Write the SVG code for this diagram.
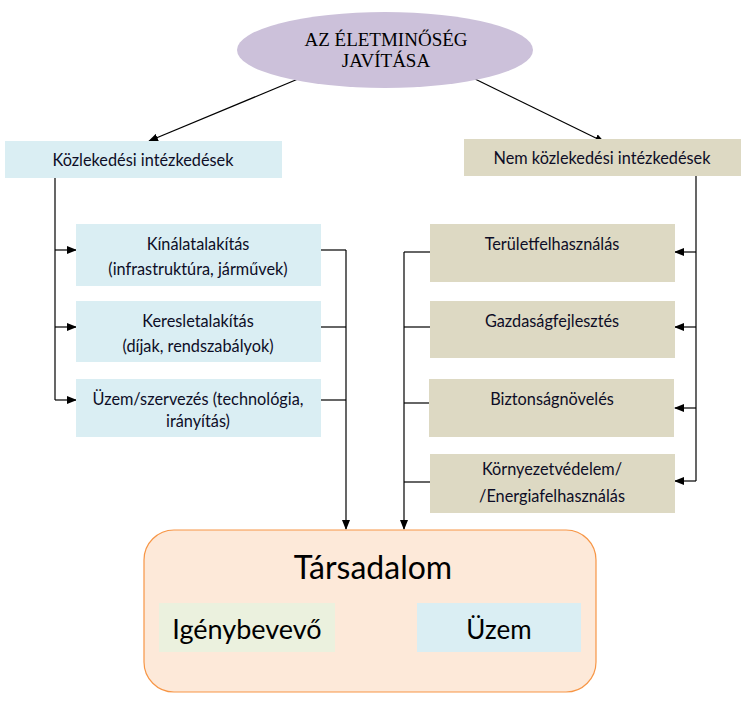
<svg xmlns="http://www.w3.org/2000/svg" width="750" height="701" viewBox="0 0 750 701">
<defs>
<marker id="ah" markerWidth="10" markerHeight="8" refX="9" refY="4" orient="auto" markerUnits="userSpaceOnUse">
<path d="M0,0 L10,4 L0,8 Z" fill="#000"/>
</marker>
<style>
.t{font-family:Lato,"Noto Sans",sans-serif;font-size:16.3px;fill:#0d0d26;text-anchor:middle}
.big{font-family:Lato,"Noto Sans",sans-serif;fill:#000;text-anchor:middle}
.ln{fill:none;stroke:#000;stroke-width:1.2}
.arr{fill:none;stroke:#000;stroke-width:1.2;marker-end:url(#ah)}
.blue{fill:#DAEEF3}
.tan{fill:#DDD9C3}
</style>
</defs>
<rect width="750" height="701" fill="#fff"/>
<g id="connectors">
<line class="arr" x1="298" y1="79" x2="149" y2="141"/>
<line class="arr" x1="475" y1="79" x2="604" y2="142"/>
<polyline class="ln" points="55,178 55,400"/>
<line class="arr" x1="55" y1="250" x2="76" y2="250"/>
<line class="arr" x1="55" y1="327" x2="76" y2="327"/>
<line class="arr" x1="55" y1="400" x2="76" y2="400"/>
<line class="ln" x1="321" y1="250" x2="346" y2="250"/>
<line class="ln" x1="321" y1="327" x2="346" y2="327"/>
<line class="ln" x1="321" y1="400" x2="346" y2="400"/>
<line class="arr" x1="346" y1="250" x2="346" y2="529"/>
<polyline class="ln" points="696,176 696,481"/>
<line class="arr" x1="696" y1="252" x2="675" y2="252"/>
<line class="arr" x1="696" y1="327" x2="675" y2="327"/>
<line class="arr" x1="696" y1="408" x2="675" y2="408"/>
<line class="arr" x1="696" y1="481" x2="675" y2="481"/>
<line class="ln" x1="430" y1="252" x2="404" y2="252"/>
<line class="ln" x1="430" y1="327" x2="404" y2="327"/>
<line class="ln" x1="430" y1="403" x2="404" y2="403"/>
<line class="ln" x1="430" y1="482" x2="404" y2="482"/>
<line class="arr" x1="404" y1="252" x2="404" y2="529"/>
</g>
<g id="root">
<ellipse cx="385" cy="50" rx="148" ry="38" fill="#CCC1DA"/>
<text x="386" y="46" font-family="Liberation Serif,serif" font-size="19" text-anchor="middle" fill="#000">AZ ÉLETMINŐSÉG</text>
<text x="386" y="67" font-family="Liberation Serif,serif" font-size="19" text-anchor="middle" fill="#000">JAVÍTÁSA</text>
</g>
<g id="kozlekedesi">
<rect class="blue" x="5" y="141" width="277" height="37"/>
<text class="t" x="143" y="166">Közlekedési intézkedések</text>
</g>
<g id="nemkozlekedesi">
<rect class="tan" x="464" y="139" width="277" height="37"/>
<text class="t" x="602" y="164">Nem közlekedési intézkedések</text>
</g>
<g id="kinalat">
<rect class="blue" x="76" y="224" width="245" height="62"/>
<text class="t" x="198" y="250">Kínálatalakítás</text>
<text class="t" x="198" y="275">(infrastruktúra, járművek)</text>
</g>
<g id="kereslet">
<rect class="blue" x="76" y="301" width="245" height="61"/>
<text class="t" x="198" y="327">Keresletalakítás</text>
<text class="t" x="198" y="352">(díjak, rendszabályok)</text>
</g>
<g id="uzemszerv">
<rect class="blue" x="76" y="379" width="245" height="58"/>
<text class="t" x="198" y="405">Üzem/szervezés (technológia,</text>
<text class="t" x="198" y="427">irányítás)</text>
</g>
<g id="terulet">
<rect class="tan" x="430" y="224" width="245" height="58"/>
<text class="t" x="552" y="250">Területfelhasználás</text>
</g>
<g id="gazdasag">
<rect class="tan" x="430" y="301" width="245" height="57"/>
<text class="t" x="552" y="327">Gazdaságfejlesztés</text>
</g>
<g id="biztonsag">
<rect class="tan" x="429" y="379" width="245" height="58"/>
<text class="t" x="552" y="405">Biztonságnövelés</text>
</g>
<g id="kornyezet">
<rect class="tan" x="430" y="454" width="245" height="59"/>
<text class="t" x="552" y="475">Környezetvédelem/</text>
<text class="t" x="552" y="502">/Energiafelhasználás</text>
</g>
<g id="tarsadalom">
<rect x="144" y="530" width="452" height="162" rx="30" ry="30" fill="#FDE9D9" stroke="#F79646" stroke-width="1.2"/>
<text class="big" x="373" y="579" font-size="32">Társadalom</text>
</g>
<g id="igenybevevo">
<rect x="159" y="603" width="176" height="49" fill="#EBF1DE"/>
<text class="big" x="247" y="639" font-size="27">Igénybevevő</text>
</g>
<g id="uzem">
<rect x="417" y="603" width="164" height="49" fill="#DAEEF3"/>
<text class="big" x="499" y="639" font-size="26">Üzem</text>
</g>
</svg>
